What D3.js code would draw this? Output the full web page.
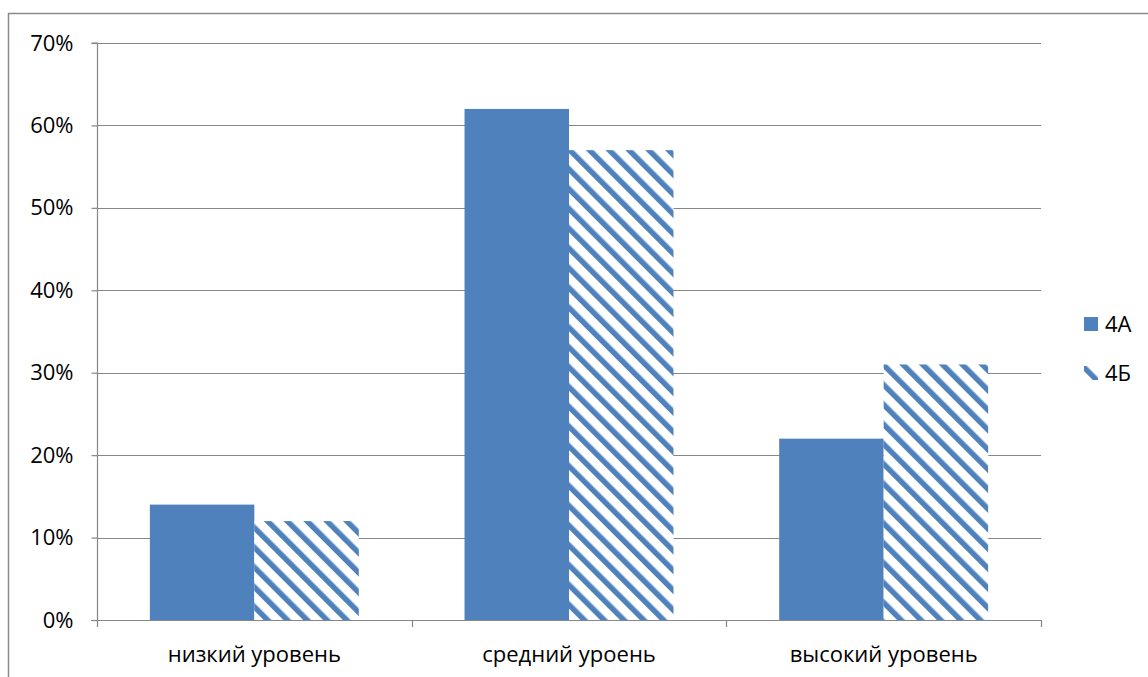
<!DOCTYPE html>
<html><head><meta charset="utf-8">
<script src="https://cdn.jsdelivr.net/npm/d3@7"></script>
<style>body{margin:0;background:#fff}svg{display:block}</style>
</head><body>
<svg id="c" width="1148" height="677"></svg>
<script>
const categories = ["низкий уровень", "средний уроень", "высокий уровень"];
const seriesNames = ["4А", "4Б"];
const values4A = [0.14, 0.62, 0.22];
const values4B = [0.12, 0.57, 0.31];
const yTicks = [0, 0.1, 0.2, 0.3, 0.4, 0.5, 0.6, 0.7];

const svg = d3.select("#c");
const font = "'Open Sans', 'Noto Sans', sans-serif";
const fs = 22;
const blue = "#4F81BD";
const grid = "#878787";

const defs = svg.append("defs");
const pat = defs.append("pattern").attr("id","stripes").attr("patternUnits","userSpaceOnUse")
  .attr("width",14).attr("height",14).attr("patternTransform","rotate(-45)");
pat.append("rect").attr("width",14).attr("height",14).attr("fill","#fff");
pat.append("rect").attr("x",0).attr("width",5.5).attr("height",14).attr("fill",blue);

// outer border
svg.append("rect").attr("x",8.5).attr("y",13.5).attr("width",1160).attr("height",700)
  .attr("fill","none").attr("stroke","#8a8a8a").attr("stroke-width",1.5);

const L = 97, R = 1041, T = 43, B = 620;
const x0 = d3.scaleBand().domain(categories).range([L,R]).paddingInner(0).paddingOuter(0);
const x1 = d3.scaleBand().domain(seriesNames).range([0, x0.bandwidth()]).paddingInner(0).paddingOuter(0.506);
const y = d3.scaleLinear().domain([0,0.7]).range([B,T]);

// gridlines
svg.append("g").selectAll("line").data(yTicks.filter(d=>d>0)).join("line")
  .attr("x1",L).attr("x2",R).attr("y1",d=>Math.round(y(d))+0.5).attr("y2",d=>Math.round(y(d))+0.5)
  .attr("stroke",grid).attr("stroke-width",1.2);

// bars
const seriesVals = [values4A, values4B];
const fills = [blue, "url(#stripes)"];
seriesNames.forEach((s,si)=>{
  svg.append("g").selectAll("rect").data(categories).join("rect")
    .attr("x",c=>x0(c)+x1(s)).attr("width",x1.bandwidth())
    .attr("y",(c,i)=>y(seriesVals[si][i])).attr("height",(c,i)=>B-y(seriesVals[si][i]))
    .attr("fill",fills[si]);
});

// y axis
const ya = svg.append("g").attr("transform",`translate(${L+0.5},0)`)
  .call(d3.axisLeft(y).tickValues(yTicks).tickFormat(d3.format(".0%")).tickSize(6).tickPadding(18));
ya.select(".domain").attr("stroke",grid).attr("stroke-width",1.2).attr("d",`M-6,${T}H0V${B}`);
ya.selectAll(".tick line").attr("stroke",grid).attr("stroke-width",1.2);
ya.selectAll("text").attr("font-family",font).attr("font-size",fs).attr("fill","#000");

// x axis
const xa = svg.append("g").attr("transform",`translate(0,${B+0.5})`)
  .call(d3.axisBottom(x0).tickSize(0).tickPadding(26));
xa.select(".domain").remove();
xa.selectAll("text").attr("font-family",font).attr("font-size",fs).attr("fill","#000");
svg.append("line").attr("x1",L-6).attr("x2",R).attr("y1",B+0.5).attr("y2",B+0.5).attr("stroke",grid).attr("stroke-width",1.2);
const bounds = [L, L+x0.bandwidth(), L+2*x0.bandwidth(), R];
svg.append("g").selectAll("line").data(bounds).join("line")
  .attr("x1",d=>Math.round(d)+0.5).attr("x2",d=>Math.round(d)+0.5).attr("y1",B).attr("y2",B+7)
  .attr("stroke",grid).attr("stroke-width",1.2);

// legend
const lg = svg.append("g");
seriesNames.forEach((s,i)=>{
  const yy = 317 + i*49;
  lg.append("rect").attr("x",1084).attr("y",yy).attr("width",14).attr("height",14).attr("fill",fills[i]);
  lg.append("text").attr("x",1105).attr("y",yy+7).attr("dy","0.35em").text(s)
    .attr("font-family",font).attr("font-size",fs).attr("fill","#000");
});
</script>
</body></html>
